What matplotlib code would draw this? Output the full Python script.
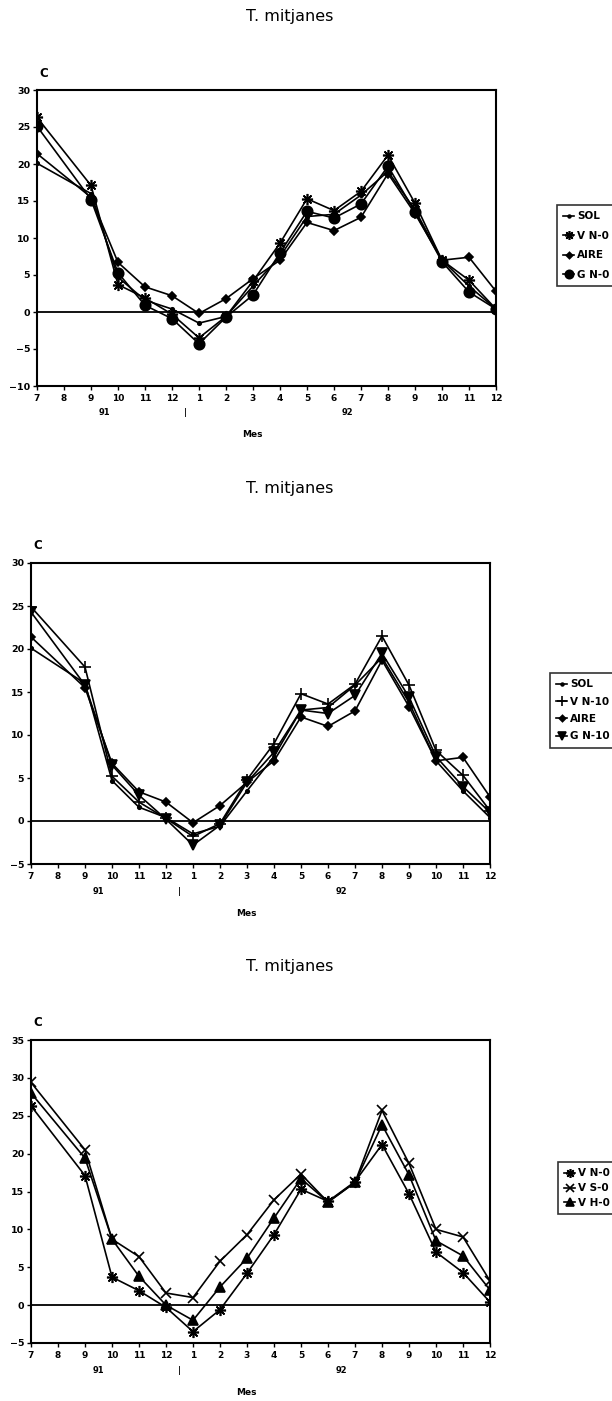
import numpy as np
import matplotlib
matplotlib.use("Agg")
import matplotlib.pyplot as plt
from matplotlib.transforms import blended_transform_factory

plt.rcParams['font.family'] = ['DejaVu Sans']

# ---- data ----
month_labels = ["7", "8", "9", "10", "11", "12", "1", "2", "3", "4", "5", "6",
                "7", "8", "9", "10", "11", "12"]
# months with measurements (no data for month 8 of 1991)
data_idx = [0, 2, 3, 4, 5, 6, 7, 8, 9, 10, 11, 12, 13, 14, 15, 16, 17]

sol   = [20.1, 16.0, 4.7, 1.6, 0.4, -1.5, -0.6, 3.5, 7.5, 12.9, 13.2, 15.8, 19.0, 13.8, 7.0, 3.5, 0.4]
v_n0  = [26.3, 17.1, 3.7, 1.9, -0.3, -3.5, -0.6, 4.2, 9.3, 15.3, 13.7, 16.3, 21.2, 14.7, 7.0, 4.3, 0.4]
aire  = [21.4, 15.5, 6.7, 3.4, 2.2, -0.2, 1.8, 4.5, 7.0, 12.1, 11.0, 12.8, 18.7, 13.3, 7.0, 7.4, 2.8]
g_n0  = [25.1, 15.2, 5.3, 0.9, -0.9, -4.3, -0.7, 2.3, 8.0, 13.6, 12.7, 14.6, 19.7, 13.5, 6.8, 2.7, 0.4]
v_n10 = [24.9, 17.9, 5.2, 2.2, 0.3, -1.8, -0.3, 4.8, 9.0, 14.8, 13.6, 15.9, 21.5, 15.8, 8.2, 5.3, 1.2]
g_n10 = [24.3, 15.8, 6.5, 3.0, 0.2, -2.8, -0.5, 4.5, 8.0, 12.9, 12.5, 14.6, 19.5, 14.4, 7.5, 4.0, 1.0]
v_s0  = [29.4, 20.5, 8.7, 6.4, 1.6, 1.0, 5.8, 9.3, 13.9, 17.3, 13.6, 16.2, 25.7, 18.7, 10.0, 9.0, 3.2]
v_h0  = [28.0, 19.4, 8.7, 3.8, 0.0, -2.0, 2.4, 6.2, 11.5, 16.7, 13.6, 16.2, 23.8, 17.2, 8.5, 6.5, 2.0]

title = "T. mitjanes"
xlabel = "Mes"
ylabel = "C"
year_labels = ["91", "|", "92"]
year_pos = [2.5, 5.5, 11.5]

W, H = 612, 1401
fig = plt.figure(figsize=(W / 100, H / 100), dpi=100)

asterisk = (8, 2, 0)

charts = [
    dict(box=(37, 496, 90, 386), ylim=(-10, 30), title_y=16, leg=(552, 200), lspace=0.9,
         series=[("SOL", sol, '.', 5), ("V N-0", v_n0, asterisk, 8),
                 ("AIRE", aire, 'D', 4), ("G N-0", g_n0, 'o', 7.5)]),
    dict(box=(31, 490, 563, 864), ylim=(-5, 30), title_y=489, leg=(545, 668), lspace=0.7,
         series=[("SOL", sol, '.', 5), ("V N-10", v_n10, '+', 9),
                 ("AIRE", aire, 'D', 4), ("G N-10", g_n10, 'v', 6.5)]),
    dict(box=(31, 490, 1040, 1343), ylim=(-5, 35), title_y=967, leg=(553, 1157), lspace=0.45,
         series=[("V N-0", v_n0, asterisk, 8), ("V S-0", v_s0, 'x', 7),
                 ("V H-0", v_h0, '^', 6.5)]),
]

for ch in charts:
    l, r, t, b = ch['box']
    ax = fig.add_axes([l / W, 1 - b / H, (r - l) / W, (b - t) / H])
    handles = []
    for name, vals, mk, ms in ch['series']:
        h, = ax.plot(data_idx, vals, color='black', lw=1.2, marker=mk, ms=ms,
                     mew=1.2, mfc='black', mec='black', label=name)
        handles.append(h)
    ax.axhline(0, color='black', lw=1.3)
    ax.set_xlim(0, len(month_labels) - 1)
    ax.set_ylim(*ch['ylim'])
    ax.set_xticks(range(len(month_labels)))
    ax.set_xticklabels(month_labels, fontsize=6.5, fontweight='bold')
    ax.set_yticks(np.arange(ch['ylim'][0], ch['ylim'][1] + 1, 5))
    ax.tick_params(axis='y', labelsize=6.8, length=3, width=1, pad=2)
    ax.tick_params(axis='x', length=3, width=1, pad=3)
    for lab in ax.get_yticklabels():
        lab.set_fontweight('bold')
    for sp in ax.spines.values():
        sp.set_linewidth(1.5)
    trans = blended_transform_factory(ax.transData, ax.transAxes)
    for txt, pos in zip(year_labels, year_pos):
        ax.text(pos, -0.075, txt, transform=trans, ha='center', va='top',
                fontsize=6, fontweight='bold')
    ax.text(0.47, -0.15, xlabel, transform=ax.transAxes, ha='center', va='top',
            fontsize=6.5, fontweight='bold')
    ax.text(0.005, 1.035, ylabel, transform=ax.transAxes, ha='left', va='bottom',
            fontsize=8.5, fontweight='bold')
    fig.text(290 / W, 1 - ch['title_y'] / H, title, ha='center', va='center', fontsize=11.5)
    lx, ly = ch['leg']
    leg = fig.legend(handles=handles, loc='upper left', bbox_to_anchor=(lx / W, 1 - ly / H),
                     frameon=True, fancybox=False, edgecolor='black', fontsize=7.5,
                     handlelength=1.0, handletextpad=0.3, labelspacing=ch['lspace'],
                     borderpad=0.6, markerscale=0.8)
    leg.get_frame().set_linewidth(1.2)
    for txt in leg.get_texts():
        txt.set_fontweight('bold')

fig.savefig("out.png", dpi=100)
